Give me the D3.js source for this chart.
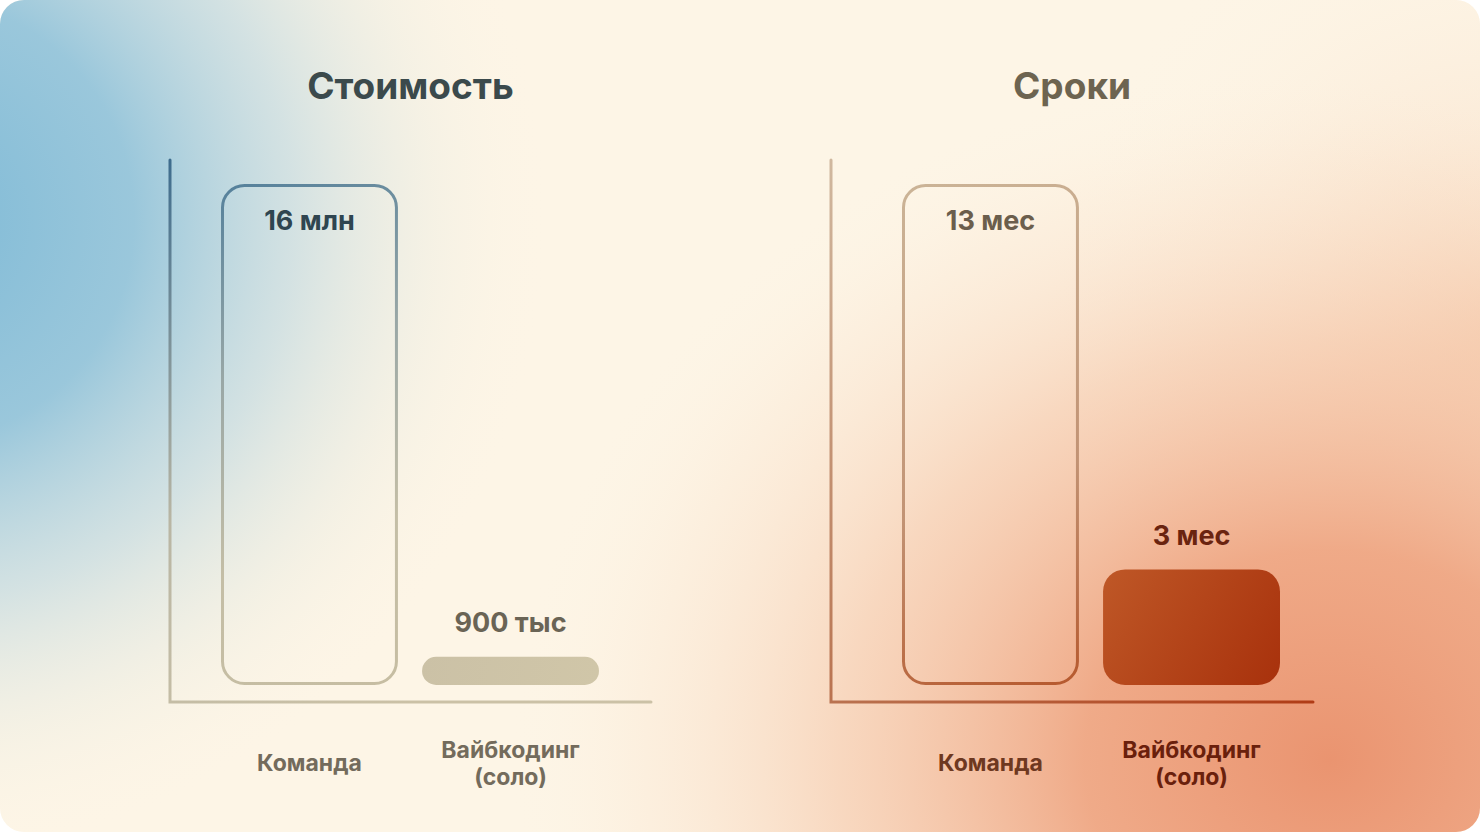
<!DOCTYPE html>
<html>
<head>
<meta charset="utf-8">
<script src="https://cdn.jsdelivr.net/npm/d3@7"></script>
<style>
  html, body { margin: 0; padding: 0; background: #ffffff; }
  svg { display: block; }
  text { font-family: Inter, "Noto Sans", sans-serif; font-weight: 700; }
</style>
</head>
<body>
<div id="chart"></div>
<script>
// chart data
var categories = [["Команда"], ["Вайбкодинг", "(соло)"]];
var costValues = [16, 0.9];
var costLabels = ["16 млн", "900 тыс"];
var timeValues = [13, 3];
var timeLabels = ["13 мес", "3 мес"];
var titles = ["Стоимость", "Сроки"];

var svgWidth = 1480;
var svgHeight = 832;

var svg = d3.select("#chart")
  .append("svg")
  .attr("width", svgWidth)
  .attr("height", svgHeight);

var defs = svg.append("defs");

// background card
defs.append("clipPath").attr("id", "card")
  .append("rect")
  .attr("width", svgWidth).attr("height", svgHeight)
  .attr("rx", 24).attr("ry", 24);

function radial(id, stops) {
  var g = defs.append("radialGradient").attr("id", id);
  stops.forEach(function(s) {
    g.append("stop").attr("offset", s[0]).attr("stop-color", s[1]).attr("stop-opacity", s[2]);
  });
}
function linear(id, x1, y1, x2, y2, stops) {
  var g = defs.append("linearGradient").attr("id", id)
    .attr("gradientUnits", "userSpaceOnUse")
    .attr("x1", x1).attr("y1", y1).attr("x2", x2).attr("y2", y2);
  stops.forEach(function(s) {
    g.append("stop").attr("offset", s[0]).attr("stop-color", s[1]);
  });
}

radial("blueGlow", [[0, "#7db9d6", 1], [0.35, "#8fc2da", 0.9], [0.6, "#b8d5e0", 0.6], [0.82, "#dfe7e0", 0.25], [1, "#fdf5e6", 0]]);
radial("orangeGlow", [[0, "#ea9470", 1], [0.3, "#eea27e", 0.9], [0.6, "#f4c0a0", 0.55], [0.85, "#f9dcc4", 0.2], [1, "#fdf5e6", 0]]);
radial("peachGlow", [[0, "#f6cfb2", 0.8], [1, "#fdf5e6", 0]]);

var bg = svg.append("g").attr("clip-path", "url(#card)");
bg.append("rect").attr("width", svgWidth).attr("height", svgHeight).attr("fill", "#fdf5e6");
bg.append("ellipse").attr("cx", 1500).attr("cy", 330).attr("rx", 460).attr("ry", 460).attr("fill", "url(#peachGlow)");
bg.append("ellipse").attr("cx", -90).attr("cy", 220).attr("rx", 640).attr("ry", 640).attr("fill", "url(#blueGlow)");
bg.append("ellipse").attr("cx", 1330).attr("cy", 760).attr("rx", 820).attr("ry", 700).attr("fill", "url(#orangeGlow)");

// gradients for the marks
linear("costAxis", 170, 160, 420, 702, [[0, "#3e6c8d"], [0.55, "#b9b6a4"], [1, "#cbc1a6"]]);
linear("costBar", 221, 184, 398, 684, [[0, "#54809b"], [0.35, "#99a7a6"], [0.7, "#c4bea6"], [1, "#c6bda2"]]);
linear("costFill", 420, 658, 599, 685, [[0, "#cbc1a6"], [1, "#d0c6a8"]]);
linear("timeAxis", 831, 160, 1313, 702, [[0, "#d0b89f"], [0.5, "#bb7a58"], [1, "#b03c16"]]);
linear("timeBar", 902, 184, 1078, 684, [[0, "#cbb497"], [0.6, "#c29374"], [1, "#b6592e"]]);
linear("timeFill", 1100, 570, 1280, 685, [[0, "#bf5827"], [1, "#a8310c"]]);

var panels = [
  {
    title: titles[0], values: costValues, labels: costLabels,
    x0: 170, x1: 651, bars: [221, 599],
    axis: "url(#costAxis)", outline: "url(#costBar)", fill: "url(#costFill)",
    titleColor: "#3b4a4c", valueColors: ["#2f4550", "#6a6455"], catColors: ["#736b5c", "#736b5c"]
  },
  {
    title: titles[1], values: timeValues, labels: timeLabels,
    x0: 831, x1: 1313, bars: [902, 1280],
    axis: "url(#timeAxis)", outline: "url(#timeBar)", fill: "url(#timeFill)",
    titleColor: "#6d6450", valueColors: ["#6b5e4c", "#6a2410"], catColors: ["#6e3820", "#6a200c"]
  }
];

var axisTop = 160, axisY = 702, barBottom = 685, barTop = 184;

panels.forEach(function(p) {
  var g = svg.append("g");

  var xScale = d3.scaleBand()
    .domain(d3.range(p.values.length))
    .range(p.bars)
    .paddingInner(0.12);

  var yScale = d3.scaleLinear()
    .domain([0, d3.max(p.values)])
    .range([barBottom, barTop]);

  // title
  g.append("text")
    .attr("x", (p.x0 + p.x1) / 2)
    .attr("y", 85)
    .attr("text-anchor", "middle")
    .attr("dominant-baseline", "central")
    .attr("font-size", "37px")
    .attr("fill", p.titleColor)
    .text(p.title);

  // axes as plain lines
  g.append("path")
    .attr("d", `M${p.x0},${axisTop} L${p.x0},${axisY} L${p.x1},${axisY}`)
    .attr("fill", "none")
    .attr("stroke", p.axis)
    .attr("stroke-width", 3)
    .attr("stroke-linecap", "round");

  // bars: biggest one is outline only, others filled
  var maxV = d3.max(p.values);
  p.values.forEach(function(v, i) {
    var h = barBottom - yScale(v);
    var outline = v === maxV;
    var r = Math.min(22, h / 2);
    g.append("rect")
      .attr("x", xScale(i) + (outline ? 1.5 : 0))
      .attr("y", yScale(v) + (outline ? 1.5 : 0))
      .attr("width", xScale.bandwidth() - (outline ? 3 : 0))
      .attr("height", h - (outline ? 3 : 0))
      .attr("rx", r).attr("ry", r)
      .attr("fill", outline ? "none" : p.fill)
      .attr("stroke", outline ? p.outline : "none")
      .attr("stroke-width", 3);

    var inside = h > 200;
    g.append("text")
      .attr("x", xScale(i) + xScale.bandwidth() / 2)
      .attr("y", inside ? yScale(v) + 36 : yScale(v) - 34)
      .attr("text-anchor", "middle")
      .attr("dominant-baseline", "central")
      .attr("font-size", "27px")
      .attr("fill", p.valueColors[i])
      .text(p.labels[i]);

    // category label
    var lines = categories[i];
    var t = g.append("text")
      .attr("text-anchor", "middle")
      .attr("font-size", "23px")
      .attr("fill", p.catColors[i]);
    lines.forEach(function(line, k) {
      t.append("tspan")
        .attr("x", xScale(i) + xScale.bandwidth() / 2)
        .attr("y", 763 + (k - (lines.length - 1) / 2) * 27)
        .attr("dominant-baseline", "central")
        .text(line);
    });
  });
});
</script>
</body>
</html>
